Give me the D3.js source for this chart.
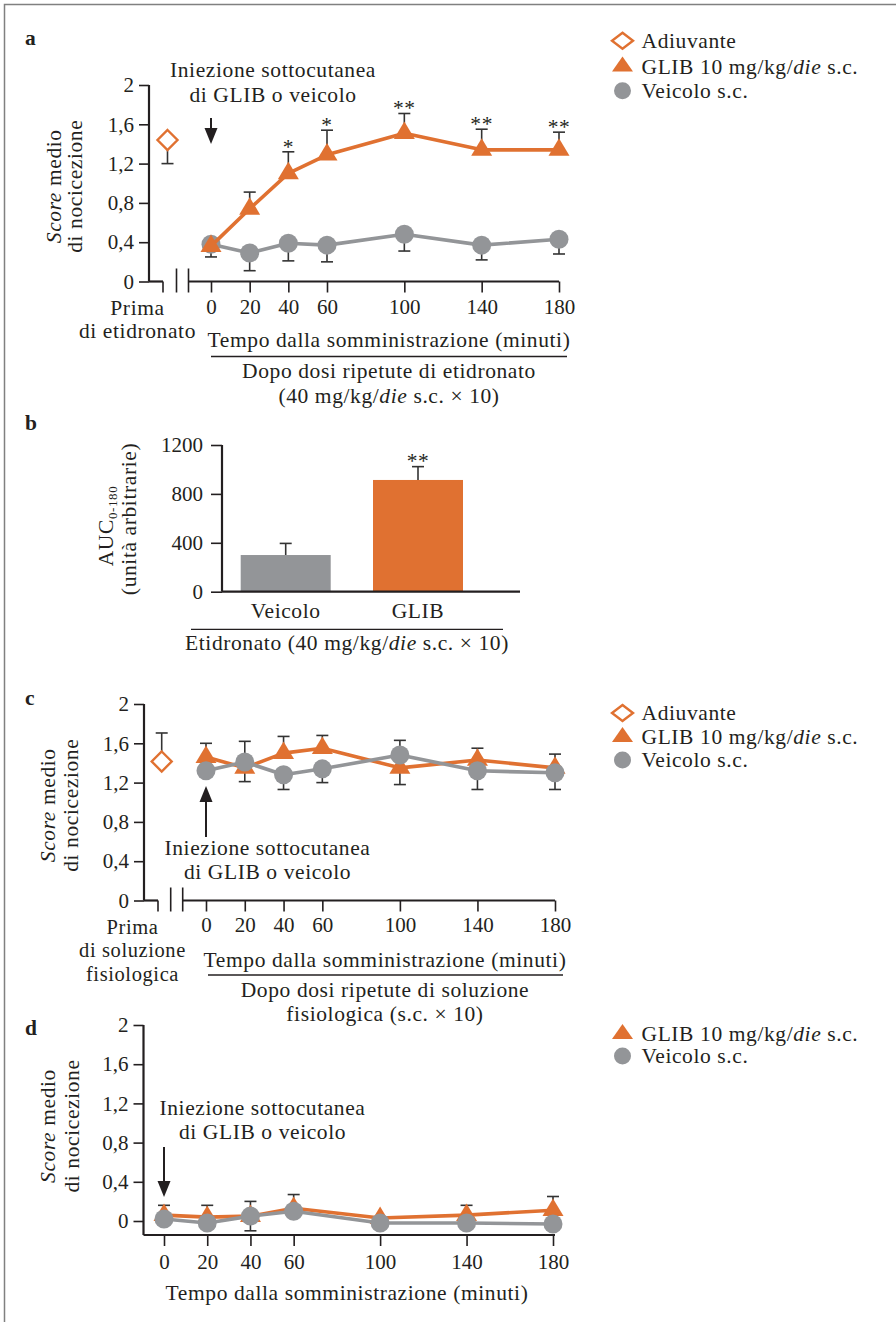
<!DOCTYPE html>
<html>
<head>
<meta charset="utf-8">
<script src="https://cdn.jsdelivr.net/npm/d3@7"></script>
<style>
  body { margin: 0; background: #fff; }
  svg text { font-family: "Liberation Serif", "Times New Roman", serif; fill: #231f20; }
</style>
</head>
<body>
<div id="chart"></div>
<script>
// ---------------- data ----------------
const minutes = [0, 20, 40, 60, 100, 140, 180];
const yTicks = [0, 0.4, 0.8, 1.2, 1.6, 2];
const yTickLabels = ["0", "0,4", "0,8", "1,2", "1,6", "2"];

// panel a (after etidronate); signed errors: + drawn up, - drawn down
const aAdiuvante = 1.44, aAdiuvanteErr = -0.24;
const aGlib = [0.36, 0.74, 1.10, 1.29, 1.51, 1.34, 1.34];
const aGlibErr = [0, 0.17, 0.22, 0.25, 0.20, 0.21, 0.18];
const aVeicolo = [0.38, 0.29, 0.39, 0.37, 0.48, 0.37, 0.43];
const aVeicoloErr = [-0.13, -0.18, -0.18, -0.17, -0.17, -0.15, -0.15];
const aStars = ["", "", "*", "*", "**", "**", "**"];

// panel b (AUC 0-180)
const bCategories = ["Veicolo", "GLIB"];
const bValues = [300, 914];
const bErrors = [95, 109];
const bStars = ["", "**"];
const bTicks = [0, 400, 800, 1200];

// panel c (after saline)
const cAdiuvante = 1.415, cAdiuvanteErr = 0.29;
const cGlib = [1.46, 1.35, 1.50, 1.55, 1.35, 1.43, 1.35];
const cGlibErr = [0.14, -0.14, 0.17, 0.13, -0.17, 0.12, 0.14];
const cVeicolo = [1.32, 1.41, 1.28, 1.34, 1.48, 1.32, 1.30];
const cVeicoloErr = [-0.05, 0.21, -0.15, -0.14, 0.15, -0.19, -0.17];

// panel d (naive)
const dGlib = [0.06, 0.04, 0.05, 0.13, 0.03, 0.06, 0.11];
const dGlibErr = [0.10, 0.12, 0.15, 0.14, 0, 0.10, 0.14];
const dVeicolo = [0.02, -0.02, 0.05, 0.10, -0.02, -0.02, -0.03];
const dVeicoloErr = [0, 0, -0.15, 0, 0, 0, 0];

// ---------------- style ----------------
const ORANGE = "#e07131";
const GRAY = "#939598";
const INK = "#231f20";
const ERR = "#333333";
const FS = 21.5;      // running text
const LS = 0.6;       // the printed face is a little wider than Liberation Serif
const TICK_FS = 21;

const svg = d3.select("#chart").append("svg")
    .attr("width", 896)
    .attr("height", 1322);

// page frame (left + top)
svg.append("path")
    .attr("d", "M4.5,1322V4.5H896")
    .attr("fill", "none")
    .attr("stroke", "#808080")
    .attr("stroke-width", 1.5);

//============================ HELPERS ============================//
function addText(g, x, y, parts, anchor, size) {
    let t = g.append("text")
        .attr("x", x)
        .attr("y", y)
        .attr("text-anchor", anchor || "start")
        .attr("font-size", size || FS)
        .attr("letter-spacing", LS);
    for (let p of [].concat(parts)) {
        if (typeof p === "string") {
            t.append("tspan").text(p);
        } else {
            t.append("tspan").attr("font-style", "italic").text(p.i);
        }
    }
    return t;
}

function rotText(g, x, y, parts) {
    let t = addText(g, 0, 0, parts, "middle");
    t.attr("transform", `translate(${x},${y}) rotate(-90)`);
    return t;
}

function triPath(w, h) {
    return `M0,${-h * 2 / 3}L${w / 2},${h / 3}L${-w / 2},${h / 3}Z`;
}

function diamondPath(rx, ry) {
    return `M0,${-ry}L${rx},0L0,${ry}L${-rx},0Z`;
}

function marker(g, kind, cx, cy, small) {
    if (kind === "circle") {
        g.append("circle").attr("cx", cx).attr("cy", cy)
            .attr("r", small ? 8.5 : 9.5).attr("fill", GRAY);
    } else if (kind === "triangle") {
        g.append("path").attr("d", small ? triPath(21, 15) : triPath(21, 17.5))
            .attr("transform", `translate(${cx},${cy})`).attr("fill", ORANGE);
    } else {
        g.append("path").attr("d", small ? diamondPath(10.5, 8) : diamondPath(10, 10))
            .attr("transform", `translate(${cx},${cy})`)
            .attr("fill", "#fff").attr("stroke", ORANGE).attr("stroke-width", 2.4);
    }
}

function errorBar(g, cx, yFrom, yTo) {
    g.append("line").attr("x1", cx).attr("x2", cx).attr("y1", yFrom).attr("y2", yTo)
        .attr("stroke", ERR).attr("stroke-width", 1.6);
    g.append("line").attr("x1", cx - 6).attr("x2", cx + 6).attr("y1", yTo).attr("y2", yTo)
        .attr("stroke", ERR).attr("stroke-width", 1.6);
}

function drawSeries(g, x, y, values, errors, kind) {
    let pts = minutes.map((m, i) => ({ m: m, v: values[i], e: errors[i] }));
    let color = kind === "circle" ? GRAY : ORANGE;

    for (let p of pts) {
        if (p.e !== 0) errorBar(g, x(p.m), y(p.v), y(p.v + p.e));
    }

    g.append("path")
        .datum(pts)
        .attr("fill", "none")
        .attr("stroke", color)
        .attr("stroke-width", 3.6)
        .attr("stroke-linejoin", "round")
        .attr("d", d3.line().x(d => x(d.m)).y(d => y(d.v)));

    for (let p of pts) marker(g, kind, x(p.m), y(p.v));
}

function styleAxis(axisG) {
    axisG.select(".domain").remove();
    axisG.selectAll(".tick line").attr("stroke", INK).attr("stroke-width", 1.6);
    axisG.selectAll(".tick text")
        .attr("font-size", TICK_FS)
        .attr("fill", INK);
    axisG.attr("font-family", null).attr("font-size", null);
}

function hLine(g, x1, x2, yy, w) {
    g.append("line").attr("x1", x1).attr("x2", x2).attr("y1", yy).attr("y2", yy)
        .attr("stroke", INK).attr("stroke-width", w || 2.2);
}

function vLine(g, xx, y1, y2, w) {
    g.append("line").attr("x1", xx).attr("x2", xx).attr("y1", y1).attr("y2", y2)
        .attr("stroke", INK).attr("stroke-width", w || 2.2);
}

function arrow(g, xx, yTail, yTip) {
    let dir = yTip > yTail ? 1 : -1;
    let headLen = 16;
    vLine(g, xx, yTail, yTip - dir * headLen, 2);
    g.append("path")
        .attr("d", `M${xx},${yTip}L${xx - 6.5},${yTip - dir * headLen}L${xx + 6.5},${yTip - dir * headLen}Z`)
        .attr("fill", INK);
}

function legend(g, x, ys, items) {
    items.forEach((it, i) => {
        marker(g, it.kind, x, ys[i], true);
        addText(g, x + 19, ys[i] + 7, it.label);
    });
}

const legendAdiuvante = { kind: "diamond", label: "Adiuvante" };
const legendGlib = { kind: "triangle", label: ["GLIB 10 mg/kg/", { i: "die" }, " s.c."] };
const legendVeicolo = { kind: "circle", label: "Veicolo s.c." };

//============================ LINE PANELS ============================//
function linePanel(cfg) {
    const g = svg.append("g");
    const x = d3.scaleLinear().domain([0, 180]).range([cfg.x0, cfg.x1]);
    const y = d3.scaleLinear().domain([0, 2]).range([cfg.yBottom, cfg.yTop]);

    // y axis
    const yAxisG = g.append("g")
        .attr("transform", `translate(${cfg.axisX},0)`)
        .call(d3.axisLeft(y).tickValues(yTicks)
            .tickFormat((d, i) => yTickLabels[i]).tickSize(10).tickPadding(5));
    styleAxis(yAxisG);
    vLine(g, cfg.axisX, cfg.yTop, cfg.xAxisY || cfg.yBottom);

    // x axis
    const xAxisY = cfg.xAxisY || cfg.yBottom;
    const xAxisG = g.append("g")
        .attr("transform", `translate(0,${xAxisY})`)
        .call(d3.axisBottom(x).tickValues(minutes).tickFormat(d3.format("d"))
            .tickSize(11).tickPadding(cfg.tickPad));
    styleAxis(xAxisG);

    if (cfg.preTickX) {
        // pre-treatment stub and axis break
        hLine(g, cfg.axisX, cfg.preTickX, xAxisY);
        vLine(g, cfg.preTickX, xAxisY, xAxisY + 11, 1.6);
        vLine(g, cfg.break1, xAxisY - 13, xAxisY + 11, 1.6);
        vLine(g, cfg.break2, xAxisY - 13, xAxisY + 11, 1.6);
        hLine(g, cfg.break2, cfg.x1, xAxisY);
    } else {
        hLine(g, cfg.axisX, cfg.x1 + 2, xAxisY);
    }

    // y title
    rotText(g, cfg.titleX1, (cfg.yTop + cfg.yBottom) / 2 + 3, [{ i: "Score" }, " medio"]);
    rotText(g, cfg.titleX2, (cfg.yTop + cfg.yBottom) / 2 + 3, "di nocicezione");

    return { g, x, y };
}

//-------------------- panel a --------------------
{
    const cfg = {
        x0: 211, x1: 559, yTop: 85, yBottom: 281.5, axisX: 149,
        preTickX: 163, break1: 176.5, break2: 188.5, tickPad: 7,
        titleX1: 61, titleX2: 82
    };
    const { g, x, y } = linePanel(cfg);
    const preX = 167.5;

    addText(g, 25, 45, "a").attr("font-weight", "bold");

    errorBar(g, preX, y(aAdiuvante), y(aAdiuvante + aAdiuvanteErr));
    marker(g, "diamond", preX, y(aAdiuvante));

    drawSeries(g, x, y, aVeicolo, aVeicoloErr, "circle");
    drawSeries(g, x, y, aGlib, aGlibErr, "triangle");

    minutes.forEach((m, i) => {
        if (aStars[i]) addText(g, x(m), y(aGlib[i] + aGlibErr[i]) + 2, aStars[i], "middle");
    });

    addText(g, 273, 77, "Iniezione sottocutanea", "middle");
    addText(g, 273, 101.5, "di GLIB o veicolo", "middle");
    arrow(g, x(0), 118, 144);

    addText(g, 137.5, 315, "Prima", "middle");
    addText(g, 137.5, 338, "di etidronato", "middle");
    addText(g, 389, 347, "Tempo dalla somministrazione (minuti)", "middle");
    hLine(g, 211, 567, 356.5, 1.3);
    addText(g, 389, 378, "Dopo dosi ripetute di etidronato", "middle");
    addText(g, 389, 403, ["(40 mg/kg/", { i: "die" }, " s.c. × 10)"], "middle");

    legend(g, 622.5, [40.8, 66.5, 90.8], [legendAdiuvante, legendGlib, legendVeicolo]);
}

//-------------------- panel b --------------------
{
    const g = svg.append("g");
    const x = d3.scalePoint().domain(bCategories).range([285.7, 418]);
    const y = d3.scaleLinear().domain([0, 1200]).range([591.7, 445]);
    const barW = 90;

    const yAxisG = g.append("g")
        .attr("transform", "translate(222,0)")
        .call(d3.axisLeft(y).tickValues(bTicks).tickFormat(d3.format("d")).tickSize(11).tickPadding(8));
    styleAxis(yAxisG);
    vLine(g, 222, 445, 591.7);

    const colors = [GRAY, ORANGE];
    bCategories.forEach((c, i) => {
        errorBar(g, x(c), y(bValues[i]), y(bValues[i] + bErrors[i]));
        g.append("rect")
            .attr("x", x(c) - barW / 2)
            .attr("y", y(bValues[i]))
            .attr("width", barW)
            .attr("height", y(0) - y(bValues[i]))
            .attr("fill", colors[i]);
        if (bStars[i]) addText(g, x(c), y(bValues[i] + bErrors[i]) + 1, bStars[i], "middle");
        addText(g, x(c), 618, c, "middle");
    });
    hLine(g, 222, 520, 591.7);

    addText(g, 25, 430, "b").attr("font-weight", "bold");

    let t = rotText(g, 113, 526, "AUC");
    t.append("tspan").attr("font-size", 13).attr("dy", 4).text("0-180");
    rotText(g, 136, 519, "(unità arbitrarie)");

    hLine(g, 191, 503, 629.3, 1.3);
    addText(g, 347, 650, ["Etidronato (40 mg/kg/", { i: "die" }, " s.c. × 10)"], "middle");
}

//-------------------- panel c --------------------
{
    const cfg = {
        x0: 206, x1: 555, yTop: 704, yBottom: 900.5, axisX: 144,
        preTickX: 158, break1: 170.7, break2: 182.7, tickPad: 6,
        titleX1: 55, titleX2: 78
    };
    const { g, x, y } = linePanel(cfg);
    const preX = 161.7;

    addText(g, 25, 705, "c").attr("font-weight", "bold");

    errorBar(g, preX, y(cAdiuvante), y(cAdiuvante + cAdiuvanteErr));
    marker(g, "diamond", preX, y(cAdiuvante));

    drawSeries(g, x, y, cGlib, cGlibErr, "triangle");
    drawSeries(g, x, y, cVeicolo, cVeicoloErr, "circle");

    arrow(g, x(0), 837, 786);
    addText(g, 267.5, 855, "Iniezione sottocutanea", "middle");
    addText(g, 267.5, 878.5, "di GLIB o veicolo", "middle");

    addText(g, 132.5, 934, "Prima", "middle", 20.5);
    addText(g, 132.5, 957, "di soluzione", "middle", 20.5);
    addText(g, 132.5, 980.5, "fisiologica", "middle", 20.5);
    addText(g, 385, 966.5, "Tempo dalla somministrazione (minuti)", "middle");
    hLine(g, 208, 563, 975, 1.3);
    addText(g, 385, 997, "Dopo dosi ripetute di soluzione", "middle");
    addText(g, 385, 1020.5, "fisiologica (s.c. × 10)", "middle");

    legend(g, 622.5, [713, 737, 760], [legendAdiuvante, legendGlib, legendVeicolo]);
}

//-------------------- panel d --------------------
{
    const cfg = {
        x0: 164, x1: 553, yTop: 1025, yBottom: 1221, axisX: 143.5, xAxisY: 1235,
        tickPad: 8, titleX1: 55, titleX2: 79
    };
    const { g, x, y } = linePanel(cfg);

    addText(g, 25, 1035, "d").attr("font-weight", "bold");

    drawSeries(g, x, y, dGlib, dGlibErr, "triangle");
    drawSeries(g, x, y, dVeicolo, dVeicoloErr, "circle");

    addText(g, 262.5, 1115, "Iniezione sottocutanea", "middle");
    addText(g, 262.5, 1138.5, "di GLIB o veicolo", "middle");
    arrow(g, x(0), 1147, 1197);

    addText(g, 347, 1300, "Tempo dalla somministrazione (minuti)", "middle");

    legend(g, 622.5, [1034, 1056], [legendGlib, legendVeicolo]);
}
</script>
</body>
</html>
